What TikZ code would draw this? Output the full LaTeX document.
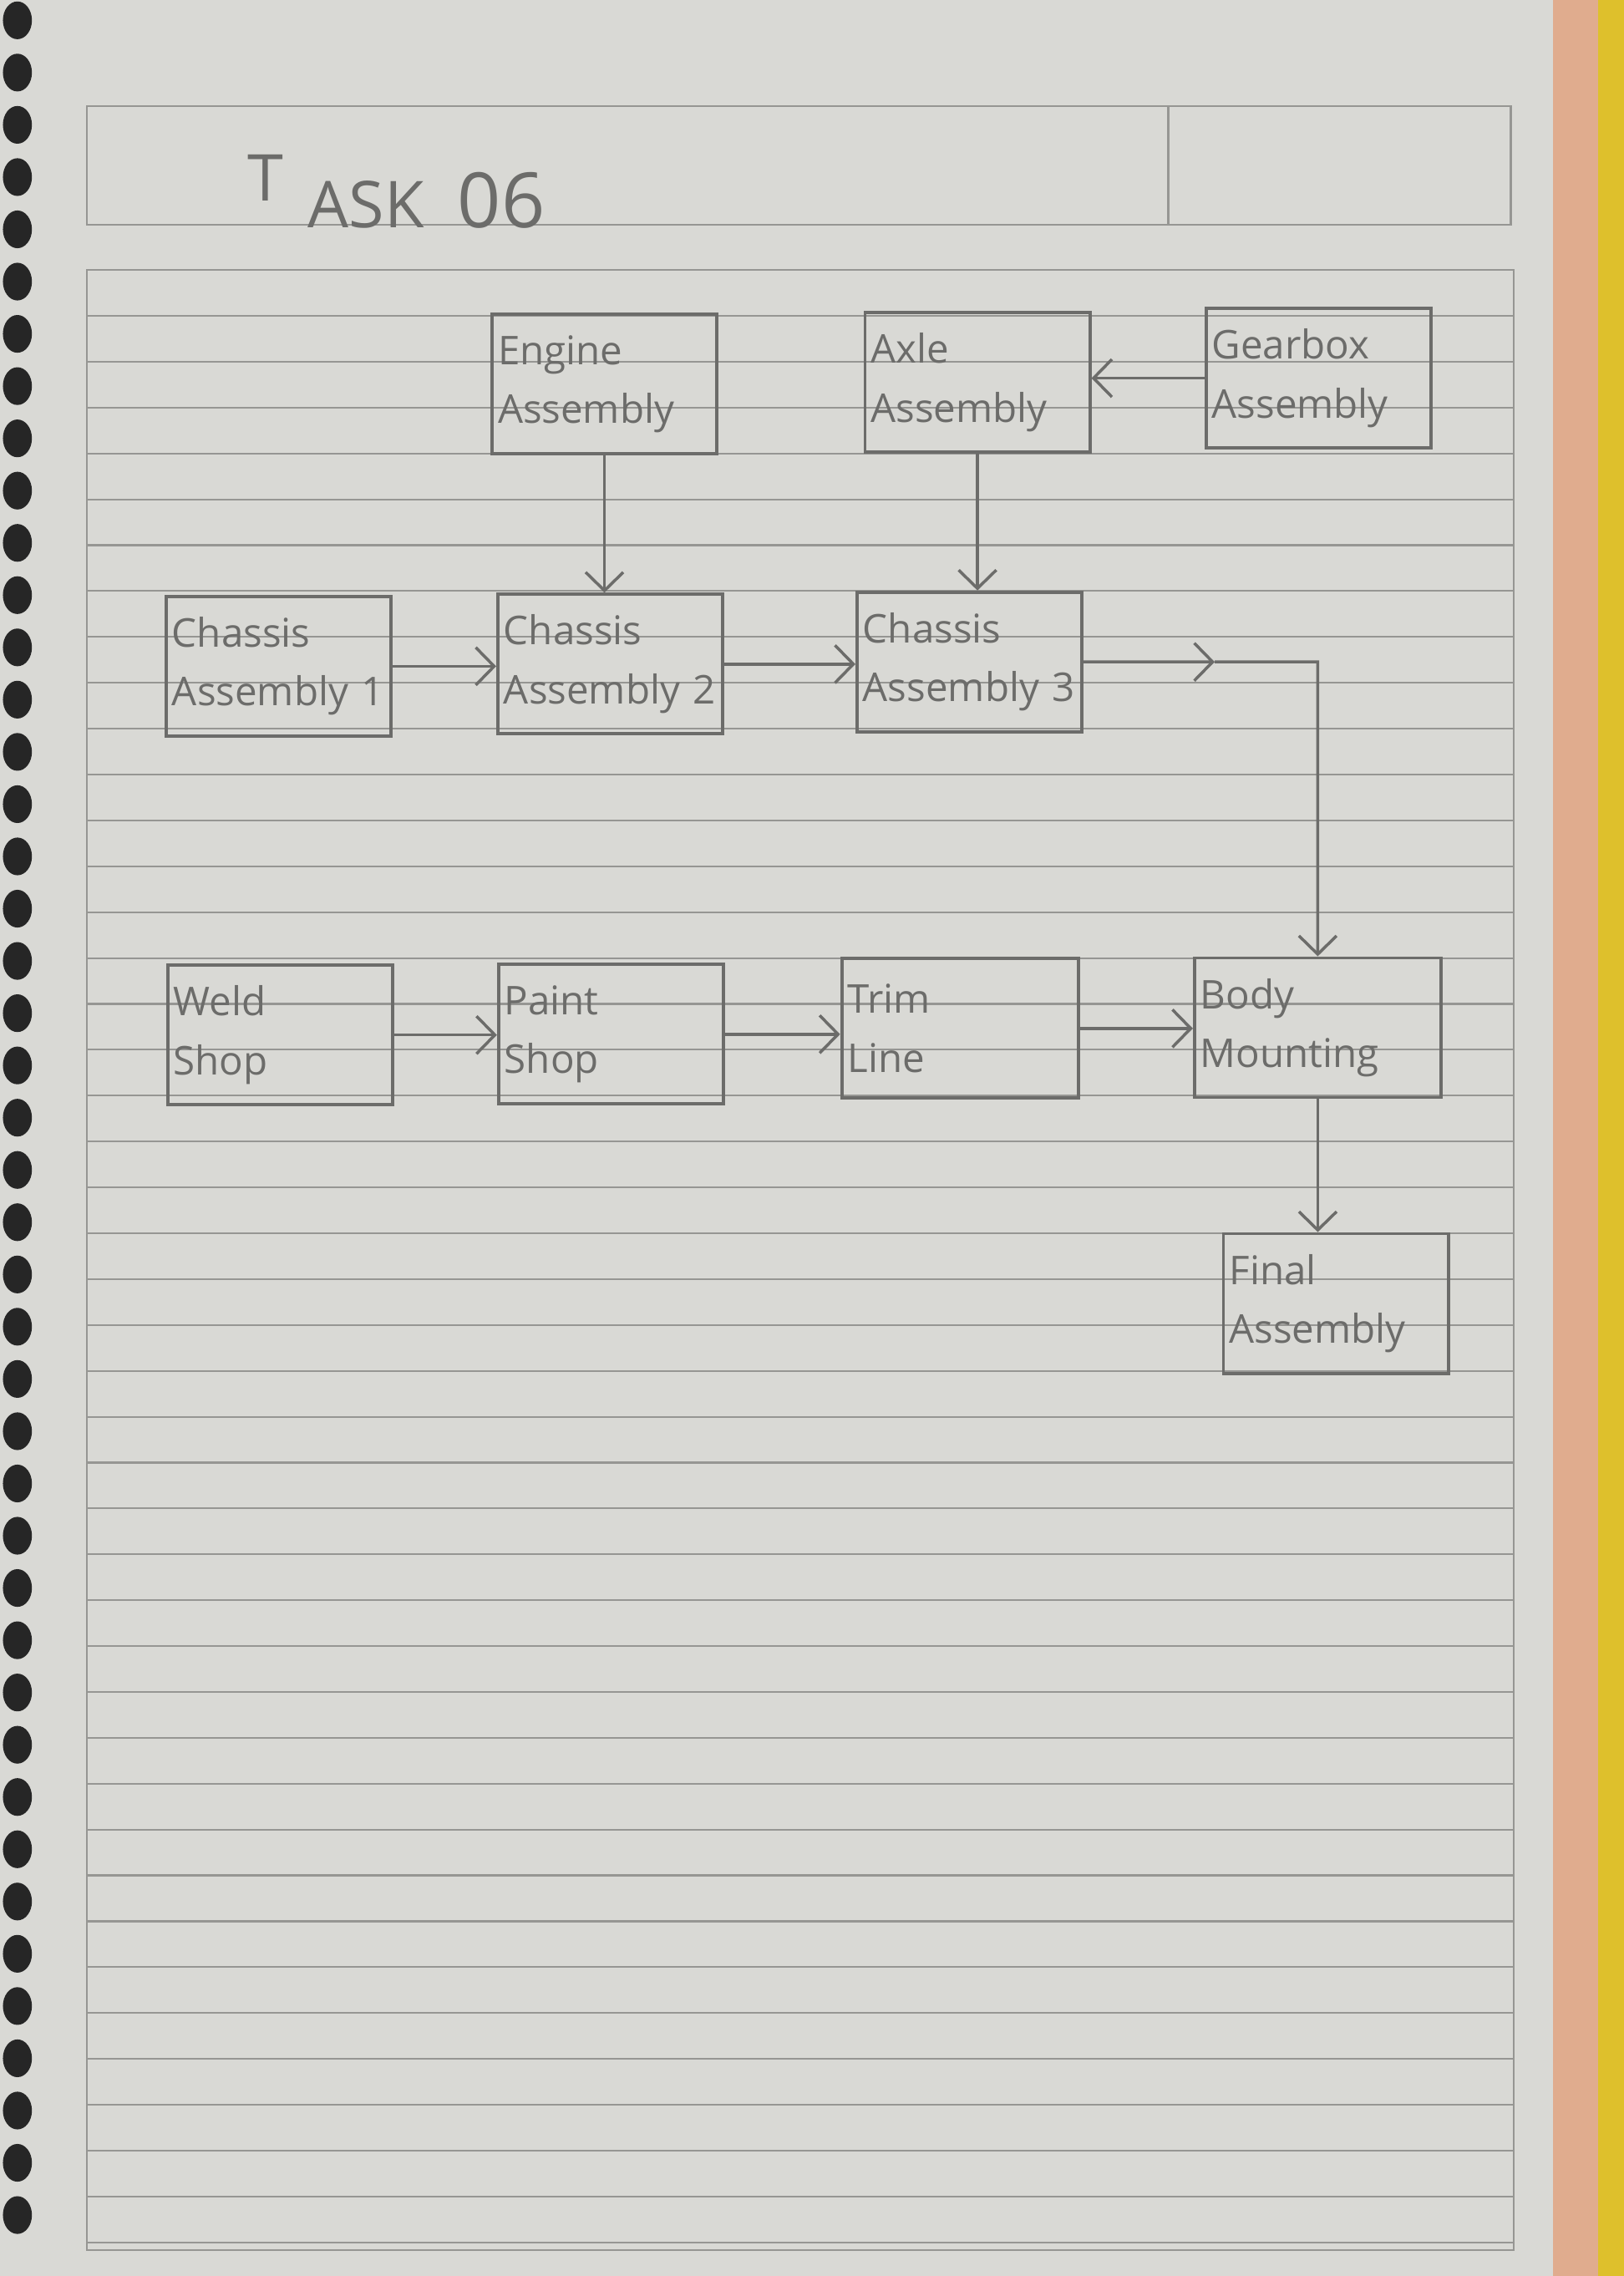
\documentclass[tikz,border=0pt]{standalone}
\usepackage{fontspec}
\setmainfont{Open Sans}
\usetikzlibrary{arrows.meta, calc}

\definecolor{paper}{RGB}{217,217,213}
\definecolor{rulegray}{RGB}{150,150,147}
\definecolor{pencil}{RGB}{108,108,106}
\definecolor{tabOrange}{RGB}{224,172,142}
\definecolor{tabYellow}{RGB}{222,192,44}
\definecolor{ringdark}{RGB}{38,38,38}

\tikzset{
  stagebox/.style={draw=pencil, line width=1.1pt, minimum width=2.69cm, minimum height=1.67cm,
    text width=2.55cm, align=left, inner sep=2pt, text=pencil, font=\fontsize{13.5}{20}\selectfont},
  widebox/.style={stagebox, minimum width=2.95cm, text width=2.81cm},
  flow/.style={draw=pencil, line width=1pt, -{Straight Barb[length=0.22cm, width=0.45cm]}},
  ruleline/.style={draw=rulegray, line width=0.6pt},
}

\begin{document}
\begin{tikzpicture}[x=0.01737cm, y=-0.01737cm]
    \useasboundingbox (0,0) rectangle (1119,1568);

    % --- 1. page, edge tabs and spiral rings ---
    \fill[paper] (0,0) rectangle (1070,1568);
    \fill[tabOrange] (1070,0) rectangle (1101,1568);
    \fill[tabYellow] (1101,0) rectangle (1119,1568);
    \foreach \y in {14,50,...,1560}
        \fill[ringdark] (12,\y) ellipse (10 and 13);

    % --- 2. header box and ruled lines ---
    \draw[ruleline] (60,73) rectangle (1041,155);
    \draw[ruleline] (805,73) -- (805,155);
    \draw[ruleline] (60,186) rectangle (1043,1550);
    \foreach \k in {1,...,43}
        \draw[ruleline] (60,{186+31.6*\k}) -- (1043,{186+31.6*\k});

    % --- 3. title ---
    \node[anchor=base west, inner sep=0pt, text=pencil, font=\fontsize{22}{22}\selectfont]
        (title) at (170,157) {\raisebox{0.32cm}{T}\hspace{0.3cm}ASK\hspace{0.4cm}{\fontsize{26}{26}\selectfont 06}};

    % --- 4. stations ---
    \node[stagebox] (Eng) at (416.5,264.5) {Engine\\Assembly};
    \node[stagebox] (Axl) at (673.5,263.5) {Axle\\Assembly};
    \node[stagebox] (Gbx) at (908.5,260.5) {Gearbox\\Assembly};

    \node[stagebox] (Ch1) at (192,459) {Chassis\\Assembly 1};
    \node[stagebox] (Ch2) at (420.5,457.5) {Chassis\\Assembly 2};
    \node[stagebox] (Ch3) at (668,456) {Chassis\\Assembly 3};

    \node[stagebox] (Wld) at (193,713) {Weld\\Shop};
    \node[stagebox] (Pnt) at (421,712.5) {Paint\\Shop};
    \node[stagebox, minimum width=2.83cm, text width=2.69cm] (Trm) at (661.5,708.5) {Trim\\Line};
    \node[widebox] (Bdy) at (908,708) {Body\\Mounting};

    \node[stagebox] (Fin) at (920.5,898) {Final\\Assembly};

    % --- 5. connectors ---
    \draw[flow] (Gbx.west) -- (Gbx.west -| Axl.east);
    \draw[flow] (Eng.south) -- (Eng.south |- Ch2.north);
    \draw[flow] (Axl.south) -- (Axl.south |- Ch3.north);

    \draw[flow] (Ch1.east) -- (Ch1.east -| Ch2.west);
    \draw[flow] (Ch2.east) -- (Ch2.east -| Ch3.west);

    \coordinate (bend) at (Bdy.north |- Ch3.east);
    \coordinate (midC) at ($(Ch3.east)!0.56!(bend)$);
    \draw[flow] (Ch3.east) -- (midC);
    \draw[flow] (midC) -- (bend) -- (Bdy.north);

    \draw[flow] (Wld.east) -- (Wld.east -| Pnt.west);
    \draw[flow] (Pnt.east) -- (Pnt.east -| Trm.west);
    \draw[flow] (Trm.east) -- (Trm.east -| Bdy.west);

    \draw[flow] (Bdy.south) -- (Bdy.south |- Fin.north);
\end{tikzpicture}
\end{document}
